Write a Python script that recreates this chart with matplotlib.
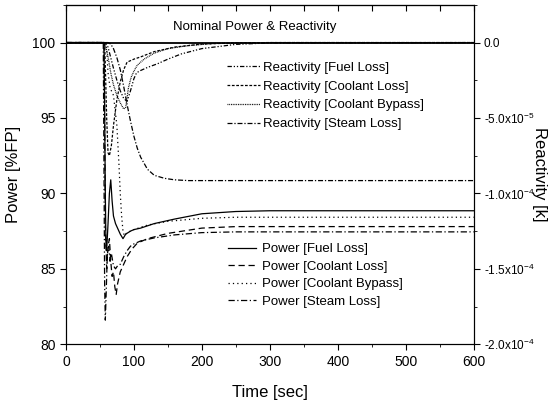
import matplotlib
matplotlib.use("Agg")
import matplotlib.pyplot as plt
from matplotlib.ticker import MultipleLocator, FuncFormatter

plt.rcParams["font.family"] = ["Liberation Sans", "DejaVu Sans"]
plt.rcParams["mathtext.fontset"] = "custom"
plt.rcParams["mathtext.rm"] = "Liberation Sans"
plt.rcParams["mathtext.it"] = "Liberation Sans:italic"
plt.rcParams["mathtext.bf"] = "Liberation Sans:bold"

# Power curves [%FP] vs time [sec]
t_pow_fuel = [0, 56, 57, 58, 59, 60, 62, 64, 66, 68, 70, 73, 76, 80, 84, 88, 95, 100, 110, 130, 160, 200, 250, 300, 600]
p_pow_fuel = [100, 100, 96, 90, 86.5, 86.2, 88, 90, 90.9, 89.5, 88.5, 88, 87.7, 87.3, 87.0, 87.3, 87.5, 87.6, 87.7, 88.0, 88.3, 88.65, 88.8, 88.85, 88.85]

t_pow_cool = [0, 56, 57, 58, 60, 62, 64, 66, 68, 70, 72, 74, 76, 80, 85, 90, 97, 105, 120, 150, 200, 250, 600]
p_pow_cool = [100, 100, 95, 88, 85, 86.5, 87, 85.5, 84.5, 84.8, 83.8, 83.3, 84.0, 84.8, 85.3, 85.8, 86.3, 86.7, 87.0, 87.35, 87.7, 87.8, 87.8]

t_pow_byp = [0, 58, 60, 62, 65, 70, 75, 78, 80, 82, 84, 86, 90, 100, 120, 150, 200, 250, 600]
p_pow_byp = [100, 100, 99.5, 98, 97, 96.5, 94.5, 92, 90, 88.5, 87.5, 87.2, 87.4, 87.6, 87.9, 88.15, 88.35, 88.42, 88.42]

t_pow_steam = [0, 55, 56, 57, 58, 59, 61, 63, 65, 67, 70, 73, 76, 80, 85, 90, 95, 100, 110, 130, 160, 200, 250, 600]
p_pow_steam = [100, 100, 92, 84, 81.6, 83, 86, 86.5, 85.5, 86, 85.2, 85.0, 85.2, 85.3, 85.8, 86.2, 86.5, 86.65, 86.85, 87.05, 87.25, 87.4, 87.45, 87.45]

# Reactivity curves [k] vs time [sec]
t_rho_fuel = [0, 58, 62, 66, 70, 75, 80, 85, 90, 95, 100, 104, 110, 120, 135, 150, 170, 200, 250, 300, 600]
r_rho_fuel = [0, 0, -0.3e-5, -1.0e-5, -1.7e-5, -2.5e-5, -3.2e-5, -3.7e-5, -3.9e-5, -3.2e-5, -2.4e-5, -2.0e-5, -1.85e-5, -1.65e-5, -1.4e-5, -1.1e-5, -0.75e-5, -0.4e-5, -0.12e-5, -0.02e-5, 0]

t_rho_cool = [0, 57, 58, 60, 62, 64, 67, 70, 75, 80, 85, 90, 100, 110, 130, 160, 200, 250, 300, 600]
r_rho_cool = [0, 0, -1.5e-5, -5e-5, -7.3e-5, -7.5e-5, -6.8e-5, -5.5e-5, -3.8e-5, -2.6e-5, -1.8e-5, -1.3e-5, -1.1e-5, -0.95e-5, -0.6e-5, -0.3e-5, -0.1e-5, -0.02e-5, 0, 0]

t_rho_byp = [0, 57, 60, 63, 66, 70, 75, 80, 85, 88, 92, 96, 100, 105, 115, 130, 150, 180, 220, 300, 600]
r_rho_byp = [0, 0, -0.5e-5, -1.2e-5, -2.0e-5, -2.8e-5, -3.5e-5, -4.0e-5, -4.4e-5, -4.3e-5, -3.0e-5, -2.3e-5, -1.9e-5, -1.5e-5, -1.1e-5, -0.7e-5, -0.4e-5, -0.2e-5, -0.05e-5, 0, 0]

t_rho_steam = [0, 62, 66, 70, 75, 80, 85, 90, 95, 100, 105, 110, 120, 130, 145, 160, 180, 200, 250, 600]
r_rho_steam = [0, 0, -0.1e-5, -0.4e-5, -1.0e-5, -1.8e-5, -2.9e-5, -4.1e-5, -5.2e-5, -6.2e-5, -7.0e-5, -7.6e-5, -8.4e-5, -8.8e-5, -9.0e-5, -9.1e-5, -9.15e-5, -9.15e-5, -9.15e-5, -9.15e-5]

fig = plt.figure(figsize=(5.49, 4.05), dpi=100)
ax = fig.add_axes([0.120, 0.150, 0.743, 0.838])
ax2 = ax.twinx()

lw = 0.9
# nominal
ax.plot([0, 600], [100, 100], color="black", lw=1.3)

h_pf, = ax.plot(t_pow_fuel, p_pow_fuel, color="black", lw=lw, ls="-")
h_pc, = ax.plot(t_pow_cool, p_pow_cool, color="black", lw=lw, ls=(0, (5, 3)))
h_pb, = ax.plot(t_pow_byp, p_pow_byp, color="black", lw=lw, ls=(0, (1, 2.5)))
h_ps, = ax.plot(t_pow_steam, p_pow_steam, color="black", lw=lw, ls=(0, (5, 2, 1, 2)))

h_rf, = ax2.plot(t_rho_fuel, r_rho_fuel, color="black", lw=lw, ls=(0, (3.5, 1.5, 1, 1.5, 1, 1.5)))
h_rc, = ax2.plot(t_rho_cool, r_rho_cool, color="black", lw=lw, ls=(0, (2.2, 1.3)))
h_rb, = ax2.plot(t_rho_byp, r_rho_byp, color="black", lw=lw, ls=(0, (0.7, 0.7)))
h_rs, = ax2.plot(t_rho_steam, r_rho_steam, color="black", lw=lw, ls=(0, (4, 1.5, 1, 1.5)))

ax.set_xlim(0, 600)
ax.set_ylim(80, 102.5)
ax2.set_ylim(-2.0e-4, 2.5e-5)

ax.xaxis.set_major_locator(MultipleLocator(100))
ax.xaxis.set_minor_locator(MultipleLocator(50))
ax.yaxis.set_major_locator(MultipleLocator(5))
ax.yaxis.set_minor_locator(MultipleLocator(2.5))
ax2.yaxis.set_major_locator(MultipleLocator(5e-5))
ax2.yaxis.set_minor_locator(MultipleLocator(2.5e-5))


def rho_fmt(v, pos):
    if abs(v) < 1e-12:
        return "0.0"
    exp = -5 if abs(v) < 9.9e-5 else -4
    mant = v / 10.0 ** exp
    return r"%.1fx10$^{%d}$" % (mant, exp)


ax2.yaxis.set_major_formatter(FuncFormatter(rho_fmt))

ax.tick_params(axis="both", which="both", direction="out", labelsize=10)
ax.tick_params(which="major", length=4)
ax.tick_params(which="minor", length=2.5)
ax2.tick_params(axis="y", which="both", direction="out", labelsize=8.5, pad=3)
ax2.tick_params(which="major", length=4)
ax2.tick_params(which="minor", length=2.5)

top = ax.secondary_xaxis("top")
top.xaxis.set_major_locator(MultipleLocator(50))
top.tick_params(direction="in", length=4, labeltop=False)

ax.set_xlabel("Time [sec]", fontsize=12, labelpad=12)
ax.set_ylabel("Power [%FP]", fontsize=12, labelpad=8)
ax2.set_ylabel("Reactivity [k]", fontsize=12, rotation=-90, va="center")
ax2.yaxis.set_label_coords(1.162, 0.5)

ax.text(157, 101.0, "Nominal Power & Reactivity", fontsize=9.5, va="center", ha="left")

leg1 = fig.legend([h_rf, h_rc, h_rb, h_rs],
                  ["Reactivity [Fuel Loss]", "Reactivity [Coolant Loss]",
                   "Reactivity [Coolant Bypass]", "Reactivity [Steam Loss]"],
                  loc="upper left", bbox_to_anchor=(0.414, 0.848), frameon=False,
                  fontsize=9.5, handlelength=2.5, handletextpad=0.2, labelspacing=0.5,
                  borderpad=0, borderaxespad=0)
leg2 = fig.legend([h_pf, h_pc, h_pb, h_ps],
                  ["Power [Fuel Loss]", "Power [Coolant Loss]",
                   "Power [Coolant Bypass]", "Power [Steam Loss]"],
                  loc="upper left", bbox_to_anchor=(0.415, 0.400), frameon=False,
                  fontsize=9.5, handlelength=2.1, handletextpad=0.5, labelspacing=0.4,
                  borderpad=0, borderaxespad=0)

fig.savefig("out.png", dpi=100)
